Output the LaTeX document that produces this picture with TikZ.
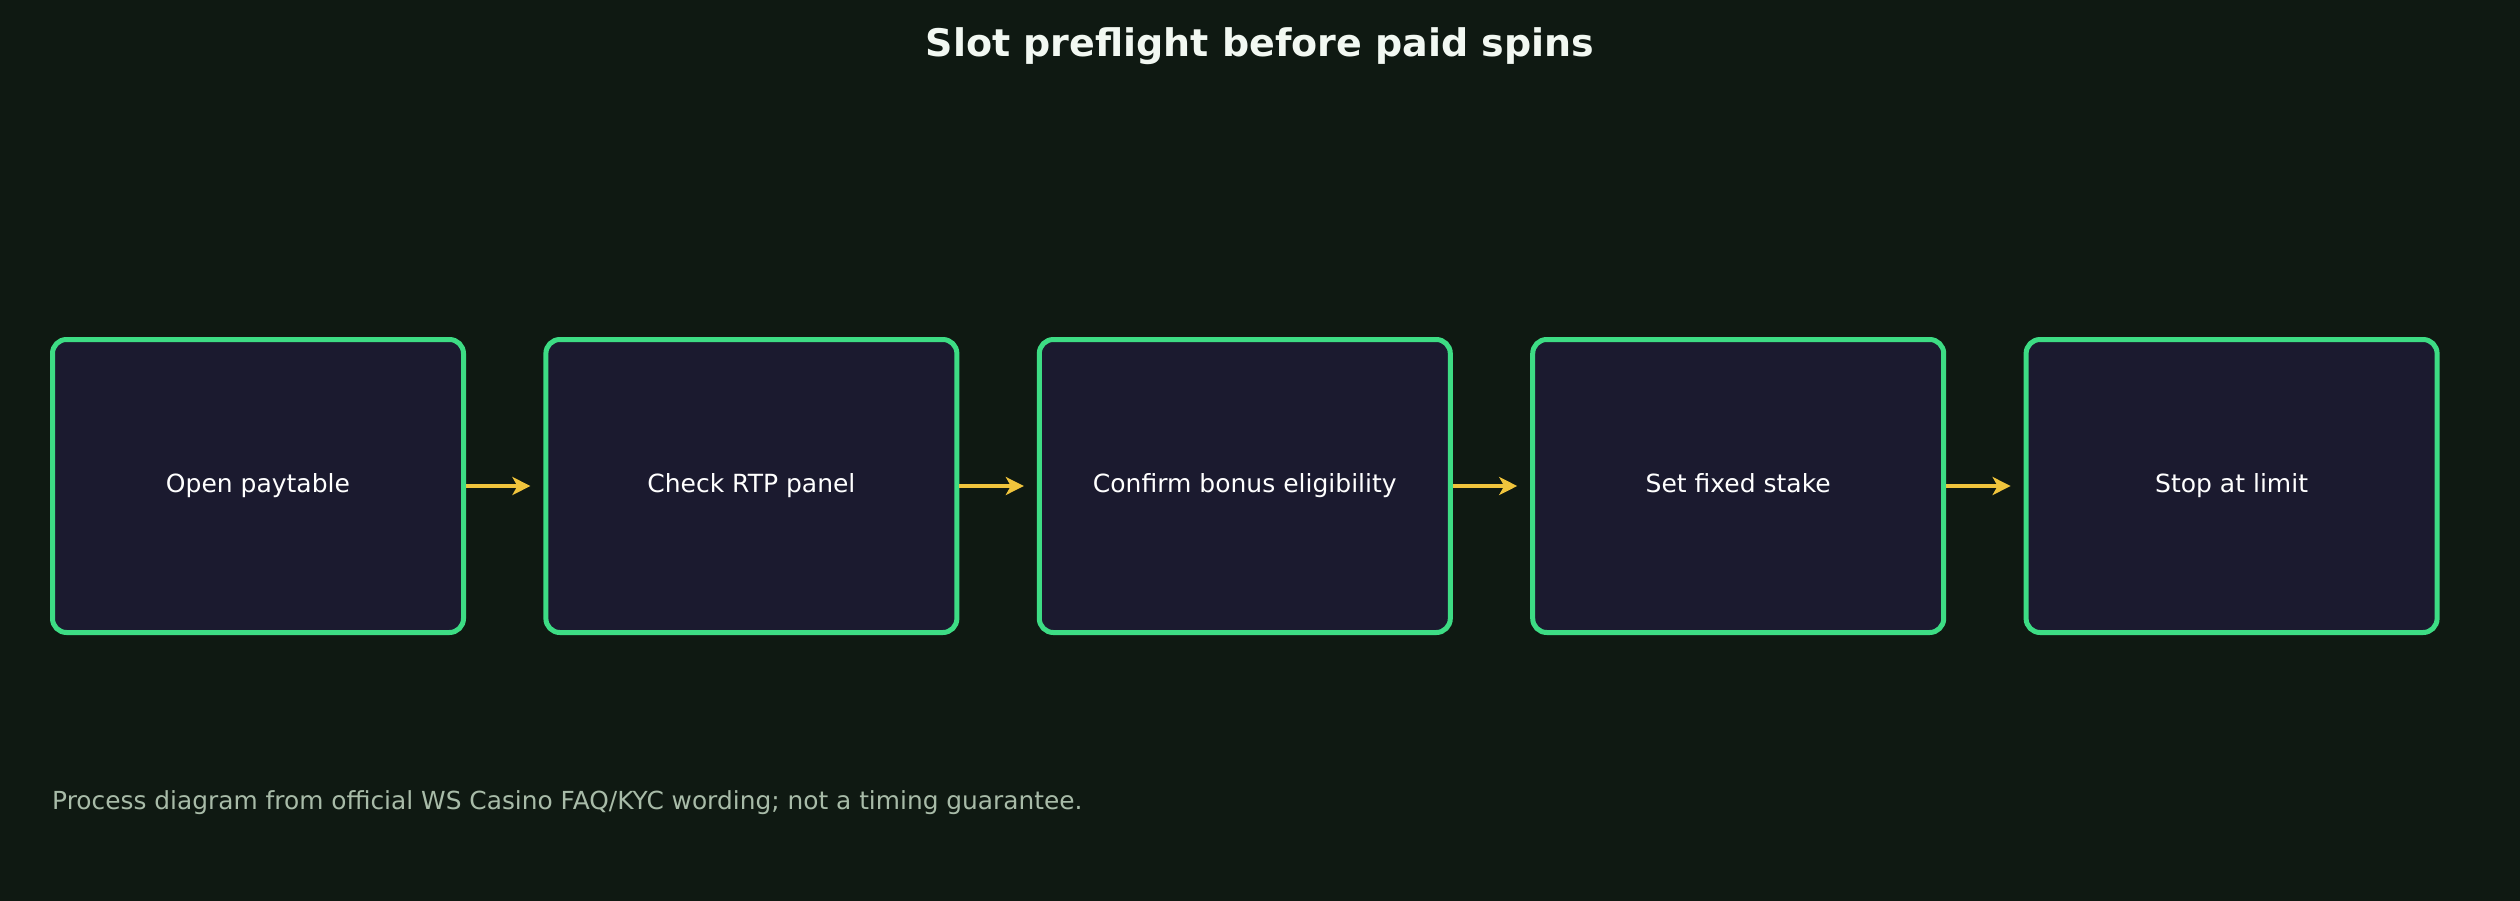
\documentclass[tikz,border=0pt]{standalone}
\usepackage{fontspec}
\setmainfont{DejaVu Sans}
\usetikzlibrary{arrows.meta}
\definecolor{bg}{HTML}{0F1912}
\definecolor{boxfill}{HTML}{1B1A2F}
\definecolor{boxline}{HTML}{3DDC84}
\definecolor{arrowc}{HTML}{F0C43C}
\definecolor{titlec}{HTML}{F2F8F2}
\definecolor{footc}{HTML}{A8BBA8}
\tikzset{
  stepbox/.style={draw=boxline, fill=boxfill, line width=5pt, rounded corners=14pt,
    minimum width=411pt, minimum height=293pt, outer sep=2.5pt, inner sep=0pt,
    text height=18pt, text depth=5pt,
    text=white, font=\fontsize{25}{30}\selectfont},
  flowarrow/.style={draw=arrowc, line width=4.5pt, -{Stealth[length=18pt,width=18pt,inset=5pt]}, shorten >=13pt},
}
\begin{document}
\begin{tikzpicture}[x=1pt,y=-1pt]
\useasboundingbox (0,0) rectangle (2520,900);
\fill[bg] (-5,-5) rectangle (2525,905);
\node[text=titlec, font=\fontsize{38}{44}\selectfont\bfseries] (title) at (1260,46) {Slot preflight before paid spins};
\node[stepbox] (b1) at (258,486) {Open paytable};
\node[stepbox] (b2) at (751.4,486) {Check RTP panel};
\node[stepbox] (b3) at (1244.8,486) {Confirm bonus eligibility};
\node[stepbox] (b4) at (1738.2,486) {Set fixed stake};
\node[stepbox] (b5) at (2231.6,486) {Stop at limit};
\draw[flowarrow] (b1.east) -- (b2.west);
\draw[flowarrow] (b2.east) -- (b3.west);
\draw[flowarrow] (b3.east) -- (b4.west);
\draw[flowarrow] (b4.east) -- (b5.west);
\node[anchor=west, text=footc, font=\fontsize{24.85}{30}\selectfont, inner sep=0pt] (foot) at (52,803) {Process diagram from official WS Casino FAQ/KYC wording; not a timing guarantee.};
\end{tikzpicture}
\end{document}
